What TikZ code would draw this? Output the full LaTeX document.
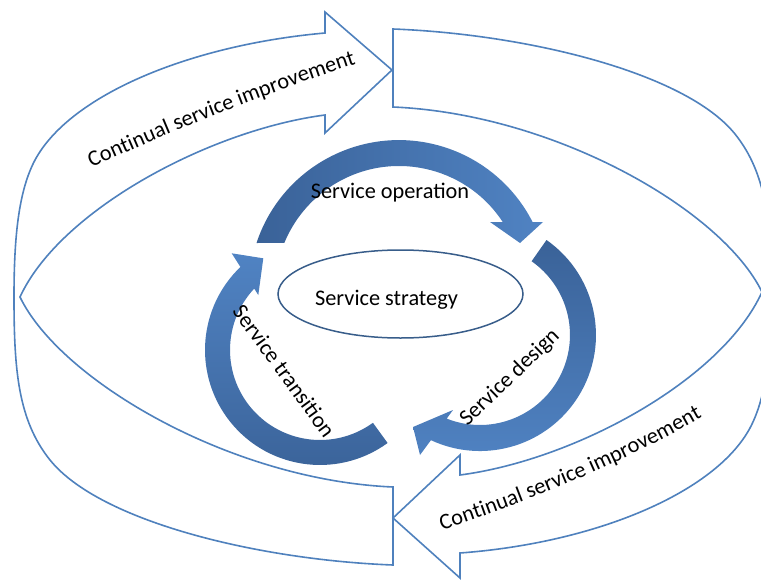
\documentclass[tikz,border=0pt]{standalone}
\usepackage{fontspec}
\setmainfont{Carlito}
\usetikzlibrary{decorations.text,shapes.geometric}
\definecolor{ribbonline}{RGB}{79,129,189}
\definecolor{cycledark}{RGB}{58,98,152}
\definecolor{cyclelight}{RGB}{80,131,195}
\definecolor{hubline}{RGB}{56,93,138}
\newcommand{\labelfont}{\fontsize{22.3}{26}\selectfont}

\begin{document}
\begin{tikzpicture}[x=1pt,y=1pt,
  ribbon/.style={draw=ribbonline, line width=1.6pt, fill=white, line join=miter},
  caption/.style={font=\labelfont, text=black, inner sep=0pt},
  curvedcaption/.style={decorate, decoration={text along path, text align=center,
      text={|\labelfont|Continual service improvement}}},
]
\useasboundingbox (0,0) rectangle (761,-581);

% outer ribbon on the left: tail at the bottom centre, head at the top centre
\path[ribbon] (393,-565) .. controls (260,-560) and (100,-522) .. (50,-460)
  .. controls (18,-420) and (14,-370) .. (14,-297)
  .. controls (14,-240) and (18,-192) .. (35,-160)
  .. controls (70,-95) and (190,-45) .. (325,-33)
  -- (325,-12) -- (392,-70) -- (325,-133) -- (325,-115)
  .. controls (210,-130) and (60,-210) .. (20,-297)
  .. controls (60,-380) and (230,-480) .. (393,-487) -- cycle;

% outer ribbon on the right: tail at the top centre, head at the bottom centre
\path[ribbon] (393,-29) .. controls (525,-34) and (685,-72) .. (735,-134)
  .. controls (767,-174) and (771,-224) .. (771,-293)
  .. controls (771,-350) and (767,-396) .. (750,-428)
  .. controls (715,-493) and (595,-543) .. (460,-553)
  -- (460,-578) -- (393,-518) -- (460,-455) -- (460,-475)
  .. controls (575,-460) and (722,-380) .. (762,-292)
  .. controls (722,-210) and (555,-114) .. (393,-107) -- cycle;

% inner cycle: operation (top)
\shade[left color=cycledark, right color=cyclelight]
  (256.5,-243) arc[start angle=161.7, end angle=27, radius=150]
  -- (543,-222) -- (520,-243) -- (490,-222) -- (502.8,-222.1)
  arc[start angle=33.2, end angle=157.7, radius=124] -- cycle;

% inner cycle: design (right)
\shade[top color=cycledark, bottom color=cyclelight]
  (546.5,-240) arc[start angle=55, end angle=-115, radius=116]
  -- (420,-455) -- (413,-427) -- (453,-410) -- (446.7,-418.6)
  arc[start angle=-111.7, end angle=55, radius=90] -- cycle;

% inner cycle: transition (left)
\shade[top color=cyclelight, bottom color=cycledark]
  (387.6,-443) arc[start angle=-54, end angle=-226.2, radius=115]
  -- (231.7,-253.3) -- (263.3,-258.3) -- (258.3,-295) -- (254.2,-288.6)
  arc[start angle=137, end angle=306, radius=90] -- cycle;

% hub
\node[draw=hubline, line width=1.5pt, ellipse, minimum width=245pt,
      minimum height=88pt, inner sep=0pt] (hub) at (400.5,-294) {};

% labels
\node[caption, anchor=base] (strategy) at (386.5,-305) {Service strategy};
\node[caption, anchor=base] (operation) at (390,-198) {Service operation};
\node[caption, anchor=base, rotate=44] (design) at (514,-382) {Service design};
\node[caption, anchor=base, rotate=-54] (transition) at (278,-375.5) {Service transition};

\path[curvedcaption] (86,-170) .. controls (170,-132) and (260,-95) .. (362,-62);
\path[curvedcaption] (436,-532) .. controls (520,-505) and (620,-465) .. (708,-414);
\end{tikzpicture}
\end{document}
